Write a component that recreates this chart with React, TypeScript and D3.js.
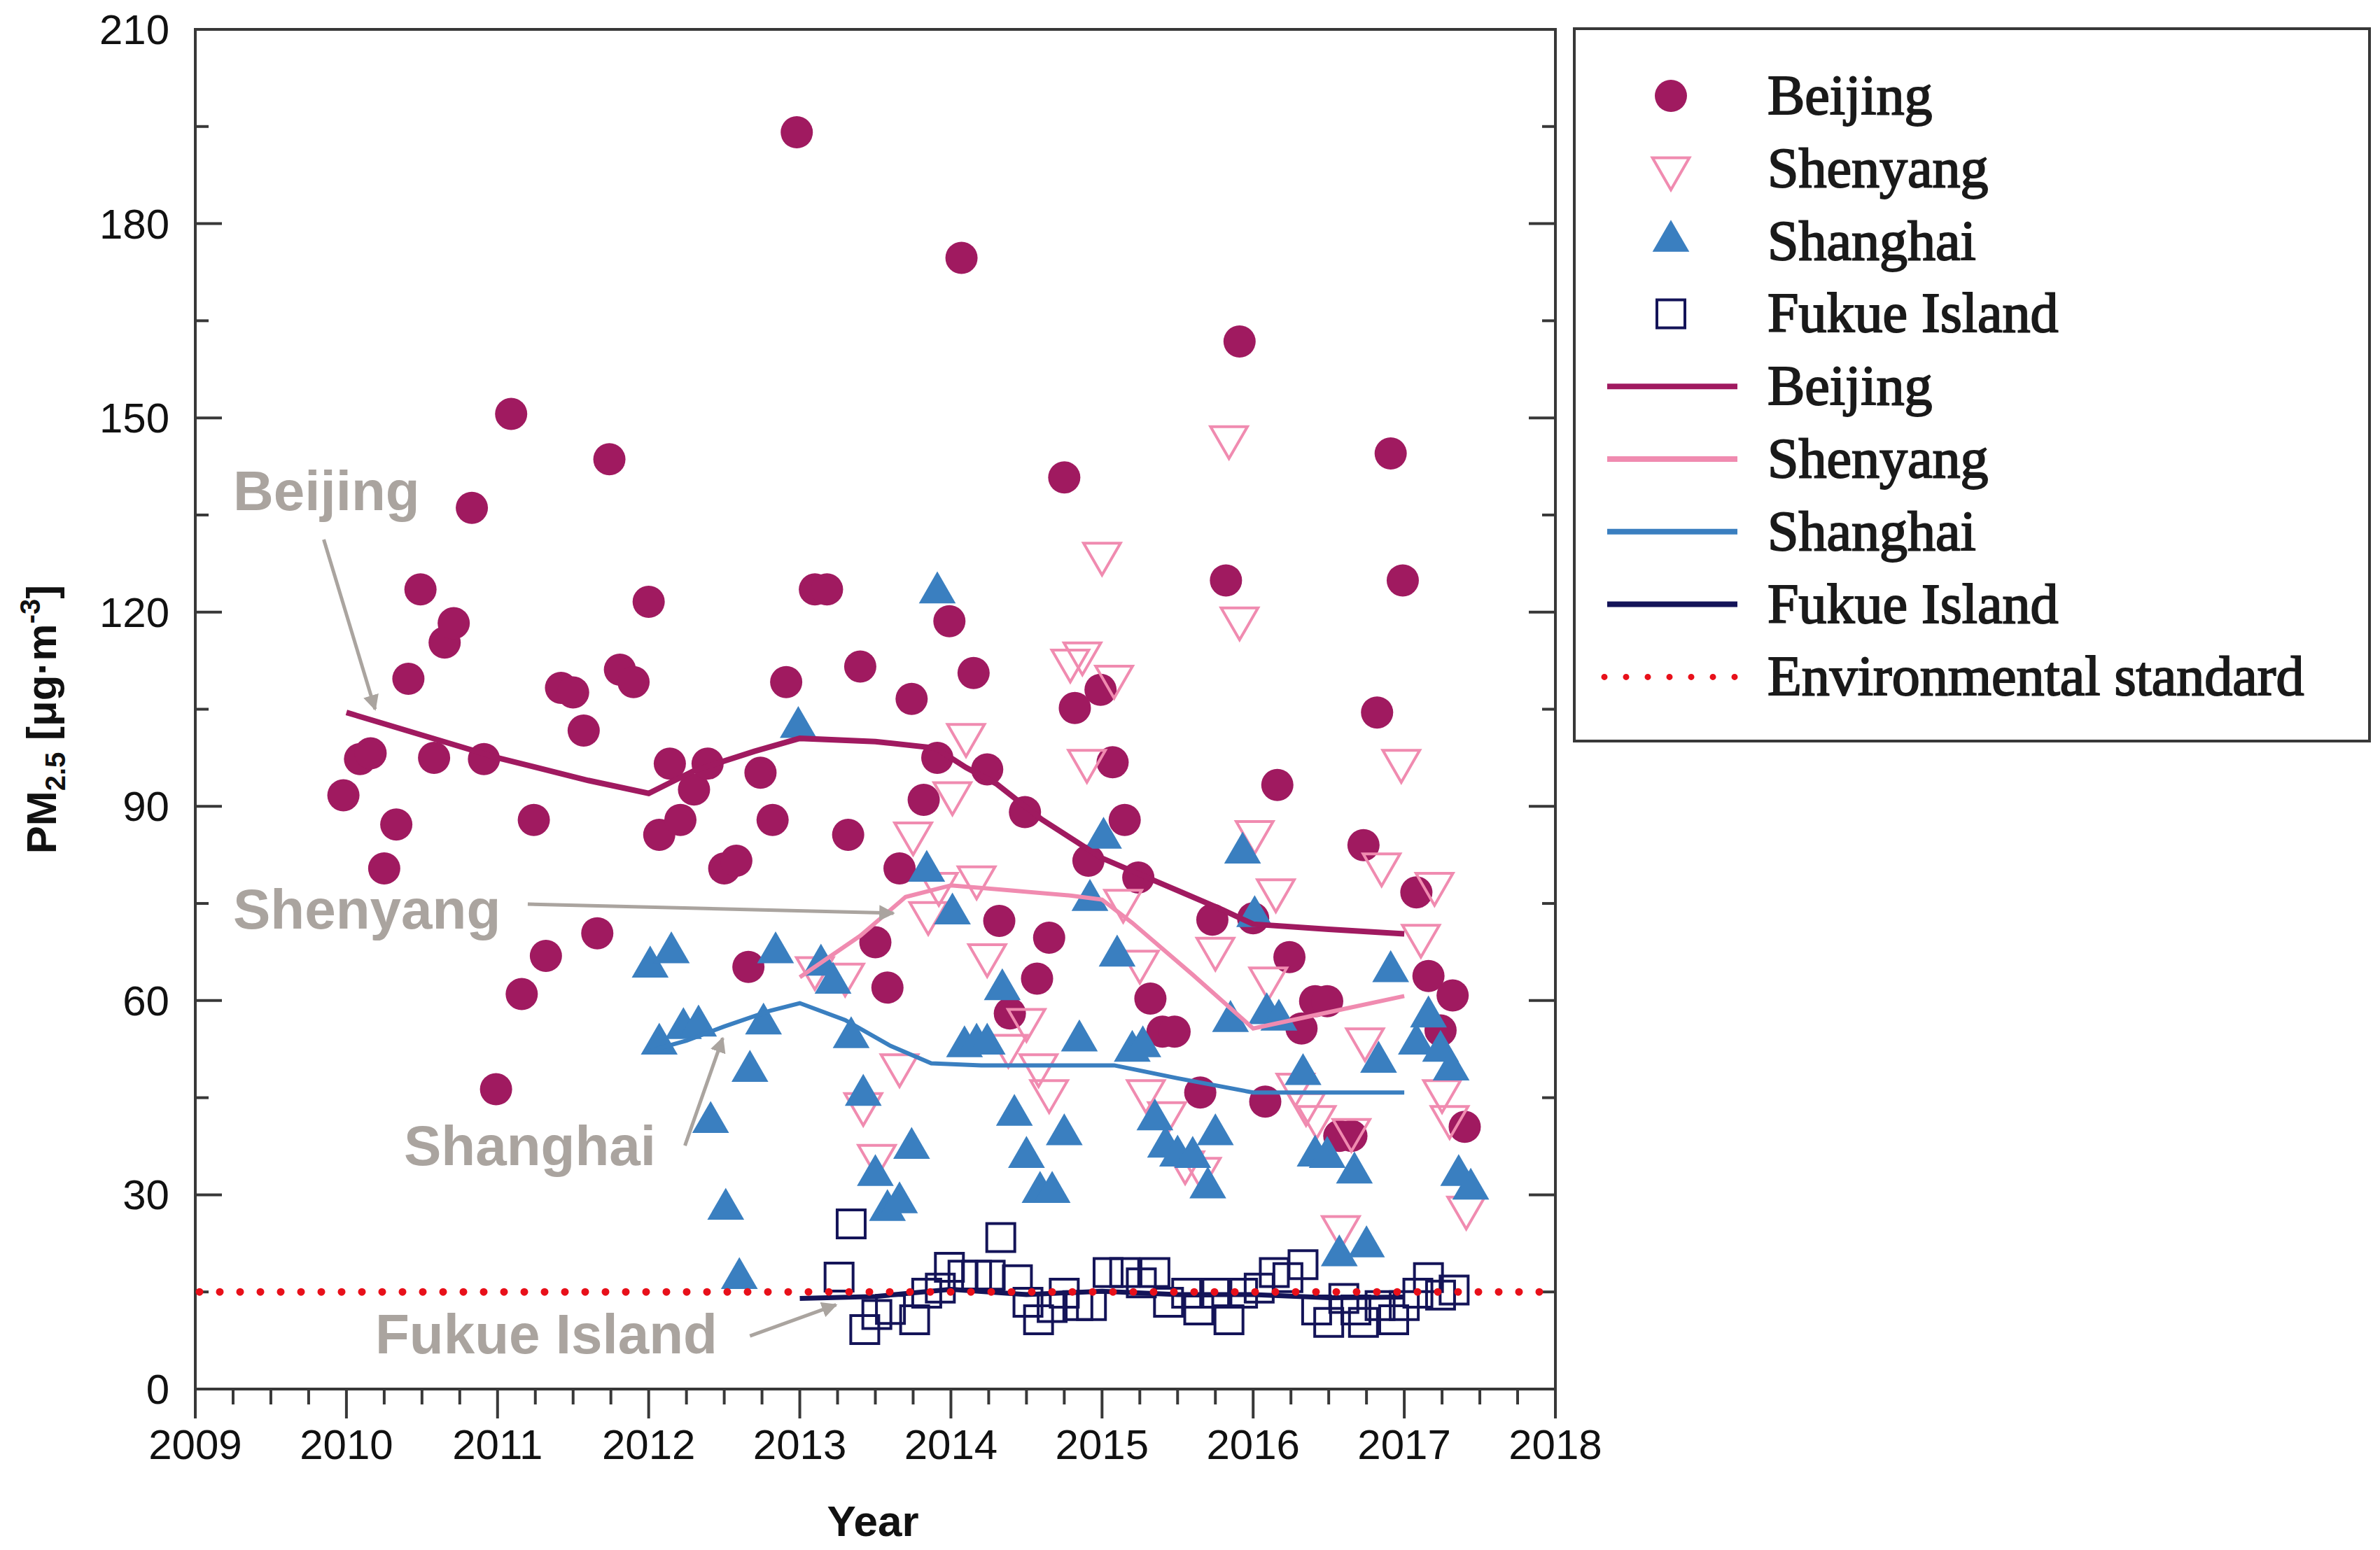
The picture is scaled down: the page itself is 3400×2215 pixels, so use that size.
import * as d3 from "d3";

// monthly means [year, PM2.5]
const beijingPts: [number, number][] = [
  [2009.98, 91.7], [2010.09, 97.3], [2010.16, 98.2], [2010.25, 80.4], [2010.33, 87.2],
  [2010.41, 109.7], [2010.49, 123.5], [2010.58, 97.5], [2010.65, 115.3], [2010.71, 118.3],
  [2010.83, 136.1], [2010.91, 97.3], [2010.99, 46.3], [2011.09, 150.6], [2011.16, 61.0],
  [2011.24, 87.9], [2011.32, 66.9], [2011.42, 108.3], [2011.5, 107.6], [2011.57, 101.7],
  [2011.66, 70.4], [2011.74, 143.6], [2011.81, 111.1], [2011.9, 109.2], [2012.0, 121.6],
  [2012.07, 85.6], [2012.14, 96.6], [2012.21, 87.9], [2012.3, 92.6], [2012.39, 96.6],
  [2012.5, 80.4], [2012.58, 81.6], [2012.66, 65.2], [2012.74, 95.2], [2012.82, 87.9],
  [2012.91, 109.2], [2012.98, 194.1], [2013.1, 123.5], [2013.18, 123.5], [2013.32, 85.6],
  [2013.4, 111.6], [2013.5, 69.0], [2013.58, 62.0], [2013.66, 80.4], [2013.74, 106.6],
  [2013.82, 91.0], [2013.91, 97.5], [2013.99, 118.6], [2014.07, 174.7], [2014.15, 110.6],
  [2014.24, 95.7], [2014.32, 72.3], [2014.39, 58.0], [2014.49, 89.1], [2014.57, 63.4],
  [2014.65, 69.7], [2014.75, 140.8], [2014.82, 105.2], [2014.91, 81.6], [2014.99, 108.0],
  [2015.07, 96.8], [2015.15, 87.9], [2015.24, 79.0], [2015.32, 60.3], [2015.4, 55.2],
  [2015.48, 55.2], [2015.65, 45.8], [2015.73, 72.5], [2015.82, 124.9], [2015.91, 161.8],
  [2016.0, 72.7], [2016.08, 44.4], [2016.16, 93.3], [2016.24, 66.7], [2016.32, 55.7],
  [2016.41, 59.9], [2016.49, 59.9], [2016.57, 39.1], [2016.65, 39.1], [2016.73, 84.0],
  [2016.82, 104.5], [2016.91, 144.5], [2016.99, 124.9], [2017.08, 76.7], [2017.16, 63.8],
  [2017.24, 55.4], [2017.32, 60.8], [2017.4, 40.5],
];

const shenyangPts: [number, number][] = [
  [2013.1, 65], [2013.3, 64], [2013.42, 44], [2013.51, 36], [2013.66, 50], [2013.75, 85.8],
  [2013.85, 73.5], [2013.92, 78], [2014.01, 92], [2014.1, 101], [2014.17, 79], [2014.24, 67],
  [2014.38, 53], [2014.5, 57], [2014.58, 50], [2014.65, 46], [2014.79, 112.5], [2014.87, 113.6],
  [2014.9, 97], [2015.0, 129], [2015.08, 110], [2015.14, 75.4], [2015.25, 66], [2015.29, 46],
  [2015.43, 42.6], [2015.55, 35], [2015.66, 34], [2015.75, 68], [2015.84, 147], [2015.91, 119],
  [2016.01, 86], [2016.1, 63.4], [2016.15, 77], [2016.28, 47], [2016.35, 44], [2016.42, 42],
  [2016.58, 25], [2016.65, 40], [2016.74, 54], [2016.85, 81], [2016.98, 97], [2017.11, 70],
  [2017.2, 78], [2017.25, 46], [2017.3, 42], [2017.41, 28],
];

const shanghaiPts: [number, number][] = [
  [2012.01, 65.2], [2012.15, 67.4], [2012.07, 53.3], [2012.23, 55.7], [2012.33, 56.1],
  [2012.41, 41.2], [2012.51, 27.8], [2012.6, 17.1], [2012.67, 49.1], [2012.76, 56.4],
  [2012.84, 67.4], [2012.99, 102.2], [2013.14, 65.5], [2013.22, 62.7], [2013.34, 54.3],
  [2013.42, 45.4], [2013.5, 33], [2013.58, 27.6], [2013.66, 28.8], [2013.74, 37.2],
  [2013.84, 80], [2013.91, 123], [2014.01, 73.4], [2014.09, 52.9], [2014.17, 53.3],
  [2014.24, 53.3], [2014.34, 61.7], [2014.42, 42.3], [2014.5, 35.8], [2014.59, 30.4],
  [2014.67, 30.4], [2014.75, 39.3], [2014.85, 53.8], [2014.92, 75.5], [2015.01, 85.1],
  [2015.1, 66.9], [2015.2, 52.2], [2015.27, 52.9], [2015.35, 41.6], [2015.42, 37.4],
  [2015.5, 36], [2015.6, 35.8], [2015.7, 31.1], [2015.75, 39.3], [2015.85, 56.8],
  [2015.93, 82.8], [2016.01, 73], [2016.09, 58], [2016.17, 57], [2016.33, 48.6],
  [2016.41, 36], [2016.49, 35.8], [2016.57, 20.6], [2016.67, 33.4], [2016.75, 22],
  [2016.83, 50.5], [2016.91, 64.5], [2017.08, 53.3], [2017.16, 57.5], [2017.24, 52.2],
  [2017.31, 49.3], [2017.36, 33], [2017.44, 30.9],
];

const fukuePts: [number, number][] = [
  [2013.26, 17.3], [2013.34, 25.5], [2013.43, 9.2], [2013.51, 11.5], [2013.6, 12.3],
  [2013.76, 10.7], [2013.84, 14.8], [2013.93, 15.6], [2013.99, 18.8], [2014.08, 17.6],
  [2014.17, 17.6], [2014.26, 17.6], [2014.33, 23.4], [2014.44, 16.9], [2014.51, 13.4],
  [2014.58, 10.7], [2014.67, 12.6], [2014.75, 14.8], [2014.84, 12.9], [2014.93, 12.9],
  [2015.04, 18], [2015.15, 18], [2015.26, 16.4], [2015.35, 18], [2015.44, 13.4],
  [2015.56, 14.8], [2015.64, 12.2], [2015.76, 14.8], [2015.84, 10.7], [2015.93, 14.8],
  [2016.04, 15.6], [2016.14, 18], [2016.23, 17.2], [2016.33, 19.2], [2016.42, 12.2],
  [2016.5, 10.3], [2016.6, 14], [2016.68, 12.2], [2016.73, 10.3], [2016.84, 12.9],
  [2016.93, 10.7], [2017.0, 12.9], [2017.09, 14.8], [2017.16, 17.2], [2017.24, 14.5],
  [2017.33, 15.3],
];

// 12-month moving averages
const beijingTrend: [number, number][] = [
  [2010.0, 104.5], [2010.5, 101], [2011.0, 97.5], [2011.6, 94], [2012.0, 92], [2012.3, 95.5],
  [2012.7, 98.5], [2013.0, 100.5], [2013.5, 100], [2013.9, 99], [2014.1, 96], [2014.3, 93.5],
  [2014.6, 88], [2015.0, 82], [2015.4, 78], [2015.8, 74], [2016.0, 71.8], [2016.5, 71],
  [2017.0, 70.3],
];
const shenyangTrend: [number, number][] = [
  [2013.0, 63.6], [2013.4, 70], [2013.7, 76], [2014.0, 77.8], [2014.4, 77], [2014.8, 76.2],
  [2015.0, 75.6], [2015.2, 72], [2015.6, 64], [2016.0, 55.7], [2016.5, 58.2], [2017.0, 60.7],
];
const shanghaiTrend: [number, number][] = [
  [2012.0, 52.2], [2012.25, 53.8], [2012.5, 56], [2012.8, 58.4], [2013.0, 59.6], [2013.3, 57],
  [2013.6, 53], [2013.87, 50.3], [2014.2, 50], [2015.08, 50], [2015.5, 48], [2016.0, 45.8],
  [2017.0, 45.8],
];
const fukueTrend: [number, number][] = [
  [2013.0, 14], [2013.5, 14.3], [2014.0, 15.4], [2014.5, 14.6], [2015.0, 15.1], [2015.5, 14.6],
  [2016.0, 14.6], [2016.5, 14.1], [2017.0, 14.2],
];

const envStandard = 15;

const xTicks = d3.range(2009, 2019);
const yTicks = d3.range(0, 211, 30);

// annotation labels: [text, label year, label value, arrow from year/value, arrow to year/value]
const notes: [string, number, number, number, number, number, number][] = [
  ["Beijing", 2009.25, 135.8, 2009.85, 131.2, 2010.19, 105],
  ["Shenyang", 2009.25, 71.1, 2011.2, 74.9, 2013.62, 73.5],
  ["Shanghai", 2010.38, 34.6, 2012.24, 37.6, 2012.49, 54.2],
  ["Fukue Island", 2010.19, 5.5, 2012.67, 8.2, 2013.24, 13],
];

const legendItems = ["Beijing", "Shenyang", "Shanghai", "Fukue Island"];

const C = {
  beijing: "#a01a60",
  shenyang: "#f08bb0",
  shanghai: "#3a7fc0",
  fukue: "#141458",
  env: "#e8101a",
  axis: "#383838",
  note: "#aaa49f",
};

export default function App() {
  const W = 3400;
  const H = 2215;
  const x = d3.scaleLinear().domain([2009, 2018]).range([279, 2222]);
  const y = d3.scaleLinear().domain([0, 210]).range([1985, 42]);
  const [x0, x1] = x.range();
  const [y0, y1] = y.range();

  const line = d3.line<[number, number]>().x(d => x(d[0])).y(d => y(d[1]));
  const tri = d3.symbol(d3.symbolTriangle, 1200)()!;
  const sq = d3.symbol(d3.symbolSquare, 1600)()!;

  const xMinor = d3.range(2009, 2018.01, 0.25);
  const yMinor = d3.range(0, 211, 15);
  const sans = "'Liberation Sans', Arial, sans-serif";
  const serif = "'Liberation Serif', 'Times New Roman', serif";

  // legend layout
  const lg = { x: 2249, y: 41, w: 1136, h: 1018, row: 103.8, first: 137, mx: 2387, tx: 2525 };
  const rowY = (i: number) => lg.first + i * lg.row;
  const lineColors = [C.beijing, C.shenyang, C.shanghai, C.fukue];

  return (
    <svg width={W} height={H} style={{ position: "absolute", left: 0, top: 0, background: "#fff" }}>
      <defs>
        <marker id="ah" viewBox="0 0 10 10" refX="9" refY="5" markerWidth="4.5" markerHeight="4.5"
          orient="auto" markerUnits="strokeWidth">
          <path d="M0,0 L10,5 L0,10 z" fill={C.note} />
        </marker>
        <clipPath id="plot">
          <rect x={x0} y={y1} width={x1 - x0} height={y0 - y1} />
        </clipPath>
      </defs>
      <rect width={W} height={H} fill="#fff" />

      {/* axes frame */}
      <rect x={x0} y={y1} width={x1 - x0} height={y0 - y1} fill="none" stroke={C.axis} strokeWidth={4} />
      {yMinor.map(v => {
        const len = v % 30 === 0 ? 38 : 19;
        return (
          <g key={"yt" + v} stroke={C.axis} strokeWidth={4}>
            <line x1={x0} x2={x0 + len} y1={y(v)} y2={y(v)} />
            <line x1={x1} x2={x1 - len} y1={y(v)} y2={y(v)} />
          </g>
        );
      })}
      {xMinor.map(v => {
        const major = Math.abs(v - Math.round(v)) < 1e-6;
        return (
          <line key={"xt" + v} x1={x(v)} x2={x(v)} y1={y0} y2={y0 + (major ? 42 : 22)}
            stroke={C.axis} strokeWidth={4} />
        );
      })}
      {yTicks.map(v => (
        <text key={"yl" + v} x={242} y={y(v) + 21} textAnchor="end" fontFamily={sans} fontSize={60} fill="#111">
          {v}
        </text>
      ))}
      {xTicks.map(v => (
        <text key={"xl" + v} x={x(v)} y={2085} textAnchor="middle" fontFamily={sans} fontSize={60} fill="#111">
          {v}
        </text>
      ))}
      <text x={1247} y={2195} textAnchor="middle" fontFamily={sans} fontSize={62} fontWeight="bold" fill="#111">
        Year
      </text>
      <text transform={`translate(80,${1028}) rotate(-90)`} textAnchor="middle" fontFamily={sans}
        fontSize={60} fontWeight="bold" fill="#111">
        PM<tspan fontSize={40} dy={13}>2.5</tspan>
        <tspan dy={-13}> [μg·m</tspan>
        <tspan fontSize={40} dy={-23}>-3</tspan>
        <tspan dy={23}>]</tspan>
      </text>

      {/* scatter */}
      <g clipPath="url(#plot)">
        {beijingPts.map((d, i) => (
          <circle key={"b" + i} cx={x(d[0])} cy={y(d[1])} r={23} fill={C.beijing} />
        ))}
        {shenyangPts.map((d, i) => (
          <path key={"s" + i} d={tri} transform={`translate(${x(d[0])},${y(d[1])}) rotate(180)`}
            fill="none" stroke={C.shenyang} strokeWidth={4} />
        ))}
        {shanghaiPts.map((d, i) => (
          <path key={"h" + i} d={tri} transform={`translate(${x(d[0])},${y(d[1])})`} fill={C.shanghai} />
        ))}
        {fukuePts.map((d, i) => (
          <path key={"f" + i} d={sq} transform={`translate(${x(d[0])},${y(d[1])})`}
            fill="none" stroke={C.fukue} strokeWidth={4} />
        ))}

        <path d={line(beijingTrend)!} fill="none" stroke={C.beijing} strokeWidth={8} />
        <path d={line(shenyangTrend)!} fill="none" stroke={C.shenyang} strokeWidth={6} />
        <path d={line(shanghaiTrend)!} fill="none" stroke={C.shanghai} strokeWidth={6} />
        <path d={line(fukueTrend)!} fill="none" stroke={C.fukue} strokeWidth={7} />

        <line x1={x0 + 6} x2={x1} y1={y(envStandard)} y2={y(envStandard)} stroke={C.env}
          strokeWidth={11} strokeLinecap="round" strokeDasharray="0 29" />
      </g>

      {/* annotations */}
      {notes.map(([t, lx, ly, ax, ay, bx, by]) => (
        <g key={t}>
          <text x={x(lx)} y={y(ly)} fontFamily={sans} fontSize={80} fontWeight="bold" fill={C.note}>
            {t}
          </text>
          <line x1={x(ax)} y1={y(ay)} x2={x(bx)} y2={y(by)} stroke={C.note} strokeWidth={5}
            markerEnd="url(#ah)" />
        </g>
      ))}

      {/* legend */}
      <rect x={lg.x} y={lg.y} width={lg.w} height={lg.h} fill="#fff" stroke={C.axis} strokeWidth={4} />
      <circle cx={lg.mx} cy={rowY(0)} r={23} fill={C.beijing} />
      <path d={tri} transform={`translate(${lg.mx},${rowY(1)}) rotate(180)`} fill="none" stroke={C.shenyang} strokeWidth={4} />
      <path d={tri} transform={`translate(${lg.mx},${rowY(2)})`} fill={C.shanghai} />
      <path d={sq} transform={`translate(${lg.mx},${rowY(3)})`} fill="none" stroke={C.fukue} strokeWidth={4} />
      {lineColors.map((c, i) => (
        <line key={"ll" + i} x1={2296} x2={2482} y1={rowY(4 + i)} y2={rowY(4 + i)} stroke={c} strokeWidth={8} />
      ))}
      <line x1={2292} x2={2480} y1={rowY(8)} y2={rowY(8)} stroke={C.env} strokeWidth={9}
        strokeLinecap="round" strokeDasharray="0 31" />
      {[...legendItems, ...legendItems, "Environmental standard"].map((t, i) => (
        <text key={"lt" + i} x={lg.tx} y={rowY(i) + 26} fontFamily={serif} fontSize={80}
          fill="#1a1a1a" stroke="#1a1a1a" strokeWidth={2}>
          {t}
        </text>
      ))}
    </svg>
  );
}
